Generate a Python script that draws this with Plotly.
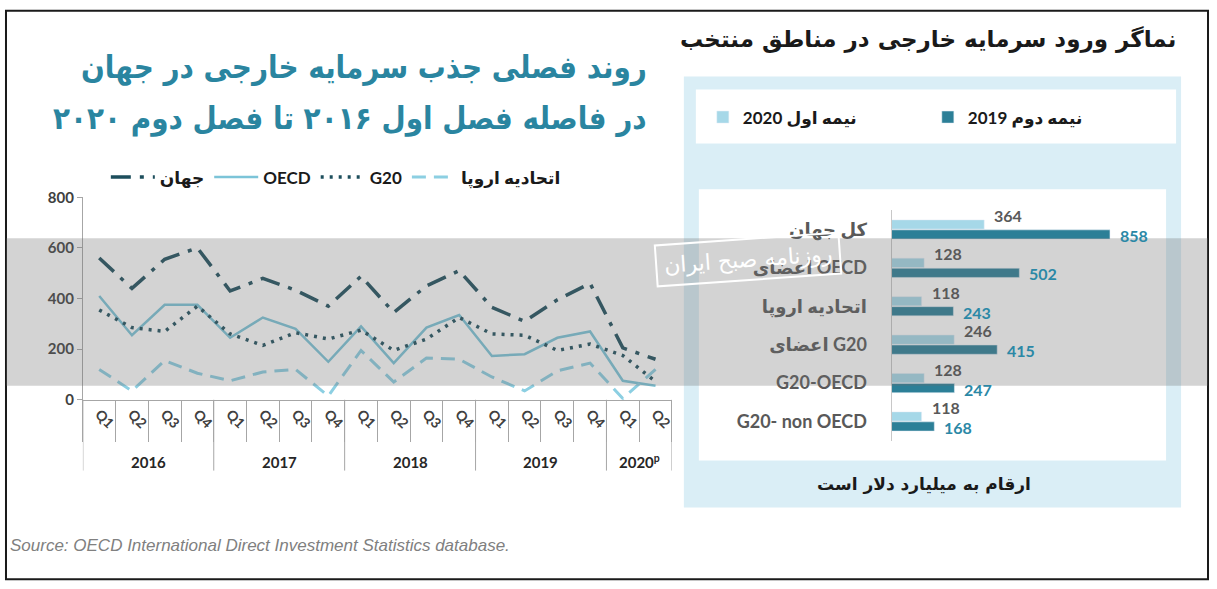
import plotly.graph_objects as go

W, H = 1217, 589
# the captured page comes out slightly squeezed vertically; positions below are
# picture pixels, mapped back through this offset/scale
Y_OFF, Y_SCALE = 8.2, 0.972

# quarterly FDI flows, billion USD
years = ["2016", "2017", "2018", "2019", "2020<sup>p</sup>"]
quarters_per_year = [4, 4, 4, 4, 2]
quarter_labels = ["Q1", "Q2", "Q3", "Q4"] * 4 + ["Q1", "Q2"]
periods = [f"{y[:4]}-{q}" for y, n in zip(years, quarters_per_year) for q in quarter_labels[:n]]

world = [560, 440, 555, 600, 430, 480, 433, 370, 488, 345, 450, 510, 365, 310, 395, 460, 205, 160]
oecd = [410, 255, 375, 375, 245, 325, 280, 150, 290, 145, 285, 335, 173, 180, 245, 270, 75, 55]
g20 = [355, 285, 270, 370, 260, 215, 265, 240, 275, 195, 240, 325, 260, 255, 195, 220, 175, 72]
eu = [120, 35, 155, 105, 75, 110, 120, 15, 195, 70, 165, 160, 90, 35, 114, 145, 5, 120]

# selected regions, billion USD
regions = ["کل جهان", "اعضای OECD", "اتحادیه اروپا", "اعضای G20", "G20-OECD", "G20- non OECD"]
h1_2020 = [364, 128, 118, 246, 128, 118]
h2_2019 = [858, 502, 243, 415, 247, 168]

FONT = "Lato, DejaVu Sans, sans-serif"
FA_FONT = "DejaVu Sans, sans-serif"
FA_TITLE = "DejaVu Sans Condensed, DejaVu Sans, sans-serif"
DARK = "#1d4e5c"
LIGHT = "#7cc4d8"
BAR_DARK = "#2c7f97"
BAR_LIGHT = "#a6d8e8"


def px(x):
    return x / W


def py(y):
    return 1 - (y - Y_OFF) / Y_SCALE / H


fig = go.Figure()

fig.add_trace(go.Scatter(x=periods, y=world, name="جهان", mode="lines",
                         line=dict(color=DARK, width=3.5, dash="20px,9px,4px,9px")))
fig.add_trace(go.Scatter(x=periods, y=oecd, name="OECD", mode="lines",
                         line=dict(color=LIGHT, width=2.5)))
fig.add_trace(go.Scatter(x=periods, y=g20, name="G20", mode="lines",
                         line=dict(color=DARK, width=3.5, dash="3px,6px")))
fig.add_trace(go.Scatter(x=periods, y=eu, name="اتحادیه اروپا", mode="lines",
                         line=dict(color="#8ccfe2", width=3, dash="14px,8px")))

fig.add_trace(go.Bar(y=regions, x=h1_2020, orientation="h", name="نیمه اول 2020",
                     marker_color=BAR_LIGHT, xaxis="x2", yaxis="y2", legend="legend2"))
fig.add_trace(go.Bar(y=regions, x=h2_2019, orientation="h", name="نیمه دوم 2019",
                     marker_color=BAR_DARK, xaxis="x2", yaxis="y2", legend="legend2"))

annotations = []

# year labels under the quarter axis
start = 0
for y, n in zip(years, quarters_per_year):
    annotations.append(dict(x=start + (n - 1) / 2, xref="x", y=py(461), yref="paper",
                            text=y, showarrow=False, yanchor="middle",
                            font=dict(size=15, color="#262626", weight="bold")))
    start += n

# bar value labels
for r, v in zip(regions, h1_2020):
    annotations.append(dict(x=v, y=r, xref="x2", yref="y2", text=str(v), showarrow=False,
                            xanchor="left", xshift=8, yshift=14,
                            font=dict(size=16, color="#595959", weight="bold")))
for r, v in zip(regions, h2_2019):
    annotations.append(dict(x=v, y=r, xref="x2", yref="y2", text=str(v), showarrow=False,
                            xanchor="left", xshift=8, yshift=-6,
                            font=dict(size=16, color="#2b88a6", weight="bold")))

# titles and notes
annotations += [
    dict(x=px(650), y=py(66), xref="paper", yref="paper", xanchor="right", yanchor="middle",
         text="روند فصلی جذب سرمایه خارجی در جهان", showarrow=False,
         font=dict(family=FA_TITLE, size=31, color="#2a85a0", weight="bold")),
    dict(x=px(650), y=py(117), xref="paper", yref="paper", xanchor="right", yanchor="middle",
         text="در فاصله فصل اول ۲۰۱۶ تا فصل دوم ۲۰۲۰", showarrow=False,
         font=dict(family=FA_TITLE, size=31, color="#2a85a0", weight="bold")),
    dict(x=px(1180), y=py(38), xref="paper", yref="paper", xanchor="right", yanchor="middle",
         text="نماگر ورود سرمایه خارجی در مناطق منتخب", showarrow=False,
         font=dict(family=FA_FONT, size=23, color="#1a1a1a", weight="bold")),
    dict(x=px(926), y=py(483), xref="paper", yref="paper", xanchor="center", yanchor="middle",
         text="ارقام به میلیارد دلار است", showarrow=False,
         font=dict(family=FA_FONT, size=17, color="#1a1a1a", weight="bold")),
    dict(x=px(8), y=py(545), xref="paper", yref="paper", xanchor="left", yanchor="middle",
         text="Source: OECD International Direct Investment Statistics database.", showarrow=False,
         font=dict(family="Liberation Sans, Arial, sans-serif", size=17, color="#808080", style="italic")),
    # newspaper watermark label
    dict(x=px(749), y=py(258), xref="paper", yref="paper", xanchor="center", yanchor="middle",
         text="روزنامه صبح ایران", showarrow=False, textangle=-4,
         bordercolor="white", borderwidth=2, borderpad=7,
         font=dict(family=FA_FONT, size=22, color="white")),
]

shapes = [
    # outer frame
    dict(type="rect", xref="paper", yref="paper", x0=px(6), x1=px(1210), y0=py(579), y1=py(9),
         line=dict(color="#1a1a1a", width=2), layer="below"),
    # right panel
    dict(type="rect", xref="paper", yref="paper", x0=px(685), x1=px(1183), y0=py(507), y1=py(75),
         fillcolor="#daeef6", line_width=0, layer="below"),
    dict(type="rect", xref="paper", yref="paper", x0=px(697), x1=px(1178), y0=py(142), y1=py(88),
         fillcolor="white", line_width=0, layer="below"),
    dict(type="rect", xref="paper", yref="paper", x0=px(700), x1=px(1168), y0=py(460), y1=py(188),
         fillcolor="white", line_width=0, layer="below"),
    # translucent watermark band
    dict(type="rect", xref="paper", yref="paper", x0=px(6), x1=px(1210), y0=py(385), y1=py(237),
         fillcolor="rgba(110,110,110,0.3)", line_width=0, layer="above"),
]

# year dividers below the quarter labels
edge = -0.5
shapes.append(dict(type="line", xref="x", yref="paper", x0=edge, x1=edge, y0=py(399), y1=py(470),
                   line=dict(color="#a6a6a6", width=1)))
for n in quarters_per_year:
    edge += n
    shapes.append(dict(type="line", xref="x", yref="paper", x0=edge, x1=edge, y0=py(399), y1=py(470),
                       line=dict(color="#a6a6a6", width=1)))

fig.update_layout(
    width=W, height=H,
    margin=dict(l=0, r=0, t=0, b=0),
    paper_bgcolor="white",
    plot_bgcolor="rgba(0,0,0,0)",
    font=dict(family=FONT, color="#404040"),
    barmode="group", bargap=0.48, bargroupgap=0.08,
    xaxis=dict(domain=[px(83), px(673)], anchor="y", type="category",
               range=[-0.5, 17.5], tickmode="array", tickvals=periods, ticktext=quarter_labels,
               tickangle=45, tickson="boundaries", ticks="outside", ticklen=41,
               tickcolor="#a6a6a6", showline=True, linecolor="#a6a6a6", showgrid=False,
               tickfont=dict(size=14, color="#404040", weight="bold")),
    yaxis=dict(domain=[py(399), py(196)], anchor="x", range=[0, 800], tickvals=[0, 200, 400, 600, 800],
               showline=True, linecolor="#a6a6a6", ticks="outside", ticklen=5, tickcolor="#a6a6a6",
               showgrid=False, zeroline=False,
               tickfont=dict(size=15, color="#404040", weight="bold")),
    xaxis2=dict(domain=[px(893), px(1148)], anchor="y2", range=[0, 1000], visible=False),
    yaxis2=dict(domain=[py(440), py(209)], anchor="x2", type="category", range=[5.5, -0.5],
                showline=True, linecolor="#c8c8c8", ticks="", showgrid=False, ticklabelstandoff=20,
                tickfont=dict(size=18, color="#595959", weight="bold")),
    legend=dict(orientation="h", x=px(106), y=py(176), xanchor="left", yanchor="middle",
                bgcolor="rgba(0,0,0,0)", font=dict(size=17, color="#1a1a1a", weight="bold"),
                itemwidth=44, traceorder="normal"),
    legend2=dict(orientation="h", x=px(704), y=py(116), xanchor="left", yanchor="middle",
                 bgcolor="rgba(0,0,0,0)", font=dict(size=17, color="#1a1a1a", weight="bold"),
                 entrywidth=180, traceorder="normal"),
    annotations=annotations,
    shapes=shapes,
)

# pin the plot to the top-left corner of the page
pin = ("var s=document.createElement('style');"
       "s.textContent='html,body{margin:0;padding:0;overflow:hidden;}';"
       "document.head.appendChild(s);")

fig.write_html("out.html", config={"displayModeBar": False}, post_script=pin)
